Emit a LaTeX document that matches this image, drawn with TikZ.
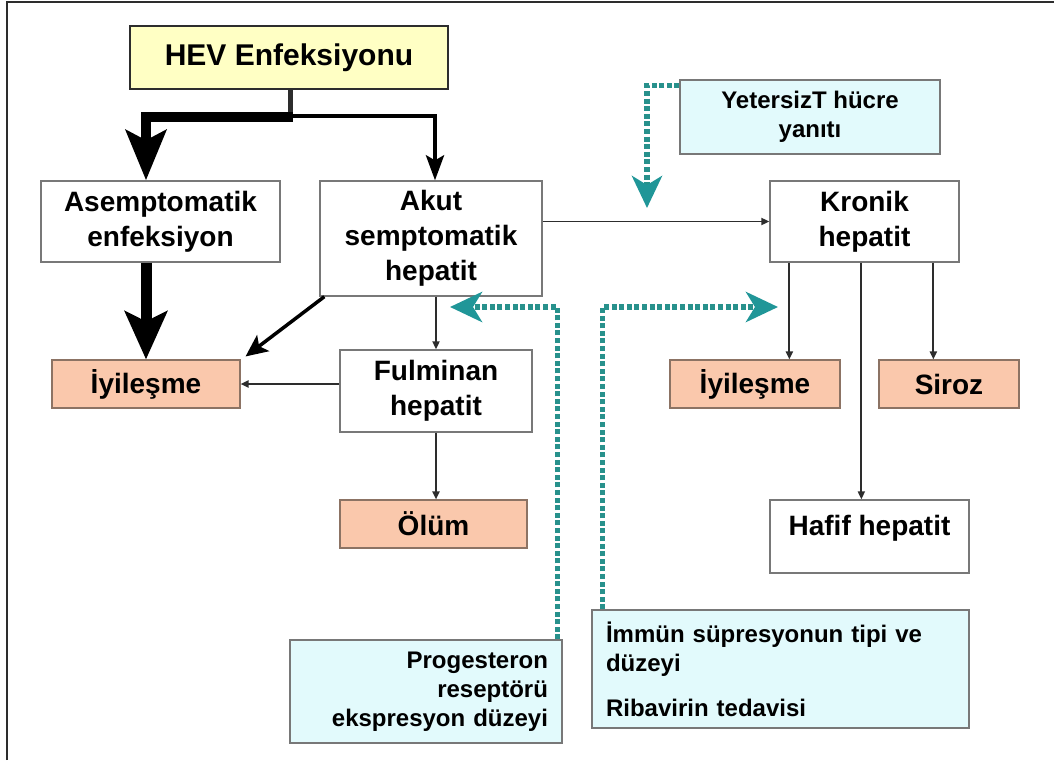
\documentclass[tikz,border=0pt]{standalone}
\usepackage{fontspec}
\setmainfont{Liberation Sans}
\usetikzlibrary{arrows.meta}
\definecolor{boxgray}{RGB}{120,120,120}
\definecolor{hevfill}{RGB}{255,255,196}
\definecolor{salmon}{RGB}{250,200,172}
\definecolor{salmonline}{RGB}{140,115,100}
\definecolor{infofill}{RGB}{226,250,252}
\definecolor{tealc}{RGB}{32,150,152}
\definecolor{dotc}{RGB}{40,145,140}
\definecolor{linec}{RGB}{45,45,45}
\tikzset{
  box/.style={draw=boxgray, line width=1.3pt, fill=white, inner sep=0pt, align=center,
    font=\bfseries\fontsize{28}{35}\selectfont},
  hevbox/.style={box, draw=linec, line width=2.6pt, fill=hevfill, font=\bfseries\fontsize{30}{36}\selectfont},
  outbox/.style={box, draw=salmonline, line width=1.1pt, fill=salmon},
  infobox/.style={draw=boxgray, line width=1.1pt, fill=infofill, inner sep=0pt,
    font=\bfseries\fontsize{24}{29}\selectfont},
  thinarrow/.style={draw=linec, line width=1.8pt, -{Triangle[length=8pt,width=7pt]}},
  dotarrow/.style={draw=dotc, line width=5.5pt, dash pattern=on 5pt off 2.6pt,
    -{Stealth[length=32pt,width=30pt,inset=9pt,fill=tealc,color=tealc]}},
}
\begin{document}
\begin{tikzpicture}[x=1pt,y=-1pt]
\fill[white] (0,0) rectangle (1054,760);
\useasboundingbox (0,0) rectangle (1054,760);
\draw[linec, line width=1.6pt] (7,760) -- (7,2) -- (1054,2);

% boxes
\node[hevbox, minimum width=318pt, minimum height=63pt] (hev) at (289,57.5) {HEV Enfeksiyonu};
\node[box, minimum width=239pt, minimum height=81pt] (asem) at (160.5,221.5) {Asemptomatik\\enfeksiyon};
\node[box, minimum width=222pt, minimum height=115pt] (akut) at (431,238.5) {Akut\\semptomatik\\hepatit};
\node[box, minimum width=189pt, minimum height=81pt] (kron) at (864.5,221.5) {Kronik\\hepatit};
\node[box, minimum width=192pt, minimum height=82pt] (ful) at (436,391) {Fulminan\\hepatit};
\node[outbox, minimum width=188pt, minimum height=48pt] (iyiL) at (146,384) {İyileşme};
\node[outbox, minimum width=187pt, minimum height=48pt] (olum) at (433.5,524) {Ölüm};
\node[outbox, minimum width=170pt, minimum height=48pt] (iyiR) at (755,384) {İyileşme};
\node[outbox, minimum width=140pt, minimum height=48pt] (siroz) at (949,384) {Siroz};
\node[box, minimum width=199pt, minimum height=73pt, text height=20pt, text depth=23pt] (hafif) at (869.5,536.5) {Hafif hepatit};
\node[infobox, minimum width=260pt, minimum height=74pt, align=center] (yet) at (810,117) {YetersizT hücre\\yanıtı};
\node[infobox, minimum width=272pt, minimum height=103pt, text width=244pt, inner xsep=14pt, align=right] (prog) at (426,691.5) {Progesteron\\reseptörü\\ekspresyon düzeyi};
\node[infobox, minimum width=377pt, minimum height=118pt, text width=349pt, inner xsep=14pt, align=left] (imm) at (780.5,669) {İmmün süpresyonun tipi ve\\düzeyi\\[16pt]Ribavirin tedavisi};

% HEV branches
\coordinate (j) at (290,117);
\draw[linec, line width=5pt] (hev.south -| j) -- ([yshift=-2pt]j);
\draw[black, line width=10pt, line join=miter, -{Stealth[length=50pt,width=40pt,inset=10pt]}]
  ([xshift=2.5pt]j) -| (asem.north -| iyiL.north);
\draw[black, line width=4pt, line join=miter, -{Stealth[length=25pt,width=18pt,inset=5pt]}]
  ([yshift=1.5pt]j) -| ([xshift=4pt]akut.north);

% heavy arrow asem -> iyileşme
\draw[black, line width=11pt, -{Stealth[length=48pt,width=42pt,inset=10pt]}]
  (asem.south -| iyiL.north) -- (iyiL.north);

% diagonal arrow akut -> iyileşme
\draw[black, line width=3.5pt, -{Stealth[length=22pt,width=20pt,inset=5pt]}]
  ([xshift=5pt]akut.south west) -- ([xshift=5pt,yshift=3pt]iyiL.north east);

% thin arrows
\draw[thinarrow] (akut.south -| ful.north) -- (ful.north);
\draw[thinarrow] (ful.south) -- (ful.south |- olum.north);
\draw[thinarrow] (iyiL.east -| ful.west) -- (iyiL.east);
\draw[thinarrow] (kron.west -| akut.east) -- (kron.west);
\draw[thinarrow] ([xshift=20pt]kron.south west) -- ([xshift=20pt]kron.south west |- iyiR.north);
\draw[thinarrow] ([xshift=92pt]kron.south west) -- ([xshift=92pt]kron.south west |- hafif.north);
\draw[thinarrow] ([xshift=164pt]kron.south west) -- ([xshift=164pt]kron.south west |- siroz.north);

% dotted teal arrows
\coordinate (tY) at (647,208);
\coordinate (tP) at (450,307);
\coordinate (tI) at (778,307);
\draw[dotarrow] ([yshift=-6pt]yet.north west) -| (tY);
\draw[dotarrow] ([xshift=-5pt]prog.north east) |- (tP);
\draw[dotarrow] ([xshift=11pt]imm.north west) |- (tI);
\end{tikzpicture}
\end{document}
